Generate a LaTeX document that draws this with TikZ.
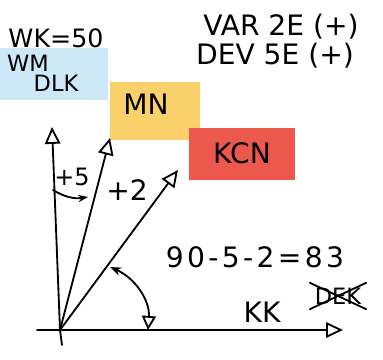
\documentclass[tikz,border=0pt]{standalone}
\usepackage{fontspec}
\setmainfont{DejaVu Sans}
\usetikzlibrary{arrows.meta}
\definecolor{tnblue}{RGB}{205,232,246}
\definecolor{mnyellow}{RGB}{249,208,105}
\definecolor{cnred}{RGB}{236,88,76}
\tikzset{
	hand/.style={line width=1.3pt, line cap=round, line join=round},
	tag/.style={inner sep=0pt, minimum height=1.3cm},
	vec/.style={hand, -{Triangle[open, length=12pt, width=11pt]}},
}
\begin{document}
\begin{tikzpicture}[x=0.025cm, y=-0.025cm, font=\fontsize{20}{22}\selectfont]
	\useasboundingbox (0,0) rectangle (383,360);
	% coloured tags
	\node[tag, fill=tnblue, minimum width=2.7cm] (tnbox) at (54,74) {};
	\node[tag, fill=mnyellow, minimum width=2.25cm, minimum height=1.43cm] (mnbox) at (155,111) {};
	\node[tag, fill=cnred, minimum width=2.63cm] (cnbox) at (242,154) {};
	\node[font=\fontsize{16}{18}\selectfont] (tn1) at (28,63) {WM};
	\node[font=\fontsize{16}{18}\selectfont] (tn2) at (56,83) {DLK};
	\node (mn) at (146,104) {MN};
	\node (cn) at (242,153) {KCN};
	% header
	\node[font=\fontsize{18}{20}\selectfont] (tc) at (56,38) {WK=50};
	\node (var) at (281,27) {VAR 2E (+)};
	\node (dev) at (275,56) {DEV 5E (+)};
	% axes and headings
	\coordinate (O) at (60,330);
	\coordinate (ybot) at (62,345);
	\coordinate (ytip) at (52,127);
	\coordinate (xl) at (37,330);
	\coordinate (xtip) at (343,330);
	\coordinate (mtip) at (110,138);
	\coordinate (ctip) at (178,170);
	\draw[hand] (ybot) -- (O);
	\draw[vec] (O) -- (ytip);
	\draw[vec] (xl) -- (xtip);
	\foreach \t in {mtip,ctip}{
		\draw[vec] (O) -- (\t);
	}
	% angles
	\coordinate (a1) at (53,190);
	\coordinate (a2) at (88,197);
	\draw[hand, -{Stealth[length=7pt]}] (a1) to[bend right=20] (a2);
	\coordinate (b1) at (110,267);
	\coordinate (b2) at (148,330);
	\draw[hand, {Stealth[length=8pt]}-{Triangle[open, length=10pt, width=10pt]}] (b1) to[bend left=35] (b2);
	\node[font=\fontsize{17}{19}\selectfont] (v) at (72,177) {+5};
	\node (d) at (127,190) {+2};
	\node[font=\fontsize{20}{22}\selectfont\addfontfeature{LetterSpace=12}] (cc) at (255,257) {90-5-2=83};
	\node (kk) at (262,312) {KK};
	\node[font=\fontsize{16}{18}\selectfont] (dk) at (338,296) {DEK};
	\draw[hand] (dk.south west) -- (dk.north east) (dk.north west) -- (dk.south east);
\end{tikzpicture}
\end{document}
